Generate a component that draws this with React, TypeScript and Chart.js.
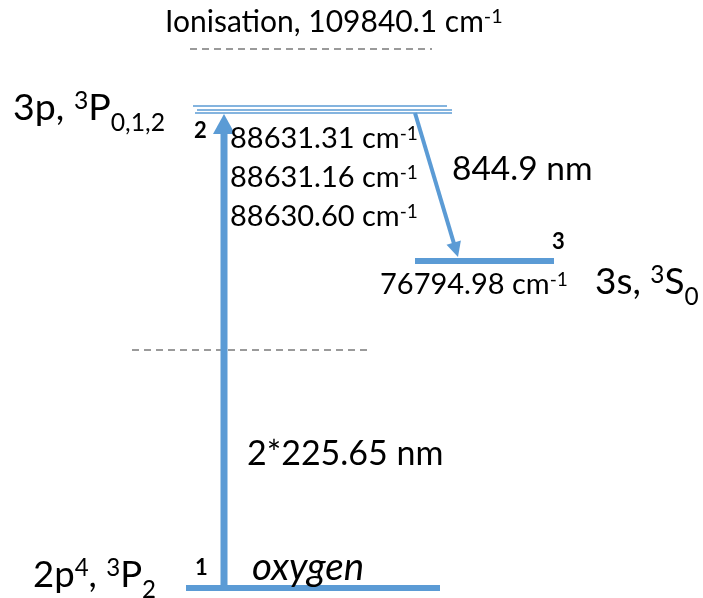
import React, { useEffect, useRef } from 'react';
import { Chart, registerables } from 'chart.js';

Chart.register(...registerables);

const W = 703;
const H = 598;

// Energy levels, in diagram units (y measured upward from the bottom of the diagram)
const levelNames = ['2p4 3P2', '3s 3S0', '3p 3P2', '3p 3P1', '3p 3P0'];
const levelY = [10, 337, 492, 488, 485];
const levelXStart = [186, 415, 193, 197, 195];
const levelXEnd = [440, 554, 447, 452, 452];

// Dashed reference levels (ionisation limit, virtual two-photon level)
const dashedNames = ['Ionisation', 'virtual'];
const dashedY = [549, 248];
const dashedXStart = [190, 132];
const dashedXEnd = [432, 372];

// Transitions (arrows)
const arrowNames = ['2*225.65 nm', '844.9 nm'];
const arrowFromX = [224, 415];
const arrowFromY = [10, 485];
const arrowToX = [224, 458];
const arrowToY = [484, 341];

// Values shown as text
const ionisationEnergy = '109840.1';
const energies3p = ['88631.31', '88631.16', '88630.60'];
const energy3s = '76794.98';
const excitationWavelength = '2*225.65 nm';
const emissionWavelength = '844.9 nm';
const levelIndices = ['1', '2', '3'];

type Run = { t: string; k?: 'sup' | 'sub' };
type TextItem = { runs: Run[]; x: number; y: number; size: number; weight?: string; style?: string };

const cm = (v: string): Run[] => [{ t: v + ' cm' }, { t: '-1', k: 'sup' }];

const texts: TextItem[] = [
  { runs: [{ t: 'Ionisation, ' }, ...cm(ionisationEnergy)], x: 165, y: 566, size: 30 },
  { runs: [{ t: '3p, ' }, { t: '3', k: 'sup' }, { t: 'P' }, { t: '0,1,2', k: 'sub' }], x: 13, y: 478, size: 37.5 },
  { runs: [{ t: levelIndices[1] }], x: 194, y: 460, size: 22, weight: 'bold' },
  { runs: cm(energies3p[0]), x: 230, y: 450, size: 29 },
  { runs: cm(energies3p[1]), x: 230, y: 411, size: 29 },
  { runs: cm(energies3p[2]), x: 230, y: 372, size: 29 },
  { runs: [{ t: emissionWavelength }], x: 452, y: 418, size: 33.5 },
  { runs: [{ t: levelIndices[2] }], x: 552, y: 349, size: 22, weight: 'bold' },
  { runs: cm(energy3s), x: 380, y: 304, size: 29 },
  { runs: [{ t: '3s, ' }, { t: '3', k: 'sup' }, { t: 'S' }, { t: '0', k: 'sub' }], x: 595, y: 304, size: 37 },
  { runs: [{ t: excitationWavelength }], x: 247, y: 133, size: 34 },
  { runs: [{ t: '2p' }, { t: '4', k: 'sup' }, { t: ', ' }, { t: '3', k: 'sup' }, { t: 'P' }, { t: '2', k: 'sub' }], x: 33, y: 11, size: 36.5 },
  { runs: [{ t: levelIndices[0] }], x: 195, y: 23, size: 22, weight: 'bold' },
  { runs: [{ t: 'oxygen' }], x: 252, y: 18, size: 38.5, style: 'italic' },
];

const BLUE = '#5B9BD5';
const GREY = '#9A9A9A';
const FONT = 'Lato';

function drawRich(ctx: CanvasRenderingContext2D, item: TextItem, px: number, py: number) {
  let cx = px;
  const size = item.size;
  for (const r of item.runs) {
    const s = r.k ? size * 0.66 : size;
    ctx.font = `${item.style || 'normal'} ${item.weight || 'normal'} ${s}px ${FONT}`;
    const dy = r.k === 'sup' ? -size * 0.29 : r.k === 'sub' ? size * 0.29 : 0;
    ctx.fillText(r.t, cx, py + dy);
    cx += ctx.measureText(r.t).width;
  }
}

const overlayPlugin = {
  id: 'overlay',
  afterDatasetsDraw(chart: any) {
    const ctx: CanvasRenderingContext2D = chart.ctx;
    const xs = chart.scales.x;
    const ys = chart.scales.y;
    ctx.save();
    // arrows
    const heads = [
      { len: 20, half: 11, width: 7 },
      { len: 15, half: 7.5, width: 4 },
    ];
    arrowNames.forEach((_, i) => {
      const x0 = xs.getPixelForValue(arrowFromX[i]);
      const y0 = ys.getPixelForValue(arrowFromY[i]);
      const x1 = xs.getPixelForValue(arrowToX[i]);
      const y1 = ys.getPixelForValue(arrowToY[i]);
      const dx = x1 - x0;
      const dy = y1 - y0;
      const L = Math.hypot(dx, dy);
      const ux = dx / L;
      const uy = dy / L;
      const h = heads[i];
      const bx = x1 - ux * h.len;
      const by = y1 - uy * h.len;
      ctx.strokeStyle = BLUE;
      ctx.fillStyle = BLUE;
      ctx.lineWidth = h.width;
      ctx.lineCap = 'butt';
      ctx.beginPath();
      ctx.moveTo(x0, y0);
      ctx.lineTo(bx + ux * 1, by + uy * 1);
      ctx.stroke();
      ctx.beginPath();
      ctx.moveTo(x1, y1);
      ctx.lineTo(bx - uy * h.half, by + ux * h.half);
      ctx.lineTo(bx + uy * h.half, by - ux * h.half);
      ctx.closePath();
      ctx.fill();
    });
    // texts
    ctx.fillStyle = '#000000';
    ctx.textBaseline = 'alphabetic';
    ctx.textAlign = 'left';
    texts.forEach((t) => {
      drawRich(ctx, t, xs.getPixelForValue(t.x), ys.getPixelForValue(t.y));
    });
    ctx.restore();
  },
};

export default function App() {
  const ref = useRef<HTMLCanvasElement | null>(null);

  useEffect(() => {
    document.body.style.margin = '0';
    document.body.style.background = '#ffffff';
    if (!ref.current) return;
    const datasets: any[] = [];
    levelNames.forEach((name, i) => {
      datasets.push({
        label: name,
        data: [
          { x: levelXStart[i], y: levelY[i] },
          { x: levelXEnd[i], y: levelY[i] },
        ],
        showLine: true,
        borderColor: BLUE,
        borderWidth: i < 2 ? 6 : 1.7,
        pointRadius: 0,
        borderCapStyle: 'butt',
      });
    });
    dashedNames.forEach((name, i) => {
      datasets.push({
        label: name,
        data: [
          { x: dashedXStart[i], y: dashedY[i] },
          { x: dashedXEnd[i], y: dashedY[i] },
        ],
        showLine: true,
        borderColor: GREY,
        borderWidth: 1.8,
        borderDash: [7, 5],
        pointRadius: 0,
      });
    });
    const chart = new Chart(ref.current, {
      type: 'scatter',
      data: { datasets },
      options: {
        animation: false,
        responsive: false,
        maintainAspectRatio: false,
        layout: { padding: 0 },
        events: [],
        scales: {
          x: { type: 'linear', min: 0, max: W, display: false },
          y: { type: 'linear', min: 0, max: H, display: false },
        },
        plugins: {
          legend: { display: false },
          tooltip: { enabled: false },
          title: { display: false },
        },
      },
      plugins: [overlayPlugin],
    });
    return () => chart.destroy();
  }, []);

  return (
    <div style={{ width: W, height: H, background: '#fff' }}>
      <canvas ref={ref} width={W} height={H} style={{ display: 'block' }} />
    </div>
  );
}
